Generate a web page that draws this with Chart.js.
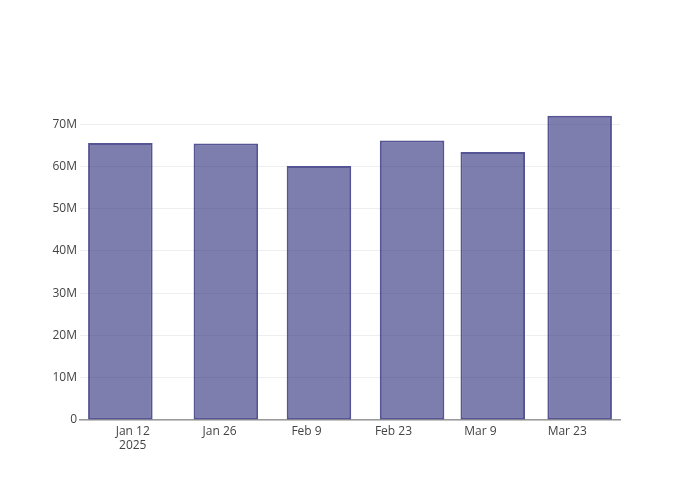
<!DOCTYPE html>
<html>
<head>
<meta charset="utf-8">
<script src="https://cdn.jsdelivr.net/npm/chart.js@4"></script>
<style>
  html, body { margin: 0; padding: 0; background: #fff; }
  #wrap { width: 700px; height: 500px; }
</style>
</head>
<body>
<div id="wrap"><canvas id="myChart" width="700" height="500"></canvas></div>
<script>
// day-of-year 2025 for each bar
const days = [10, 27, 42, 57, 70, 84];
const values = [65.5e6, 65.4e6, 60.1e6, 66.1e6, 63.4e6, 72.0e6];
const xTickDays = [12, 26, 40, 54, 68, 82];
const xTickLabels = [['Jan 12', '2025'], 'Jan 26', 'Feb 9', 'Feb 23', 'Mar 9', 'Mar 23'];
const yTicks = [0, 10e6, 20e6, 30e6, 40e6, 50e6, 60e6, 70e6];

const ctx = document.getElementById('myChart');

new Chart(ctx, {
  type: 'bar',
  data: {
    datasets: [{
      data: days.map((d, i) => ({ x: d, y: values[i] })),
      backgroundColor: 'rgba(40, 40, 120, 0.6)',
      borderColor: 'rgba(55, 55, 130, 0.85)',
      borderWidth: 2,
      borderSkipped: false,
      categoryPercentage: 1,
      barPercentage: 0.8
    }]
  },
  options: {
    responsive: false,
    animation: false,
    layout: { padding: { left: 0, right: 80, top: 100, bottom: 0 } },
    plugins: { legend: { display: false }, tooltip: { enabled: false } },
    scales: {
      x: {
        type: 'linear',
        offset: false,
        min: 3.5,
        max: 90.5,
        grid: { display: false, drawTicks: false, offset: false },
        border: { display: true, color: '#9a9a9a', width: 1.5 },
        afterBuildTicks: s => { s.ticks = xTickDays.map(v => ({ value: v })); },
        afterFit: s => { s.height = 80; },
        ticks: {
          autoSkip: false,
          maxRotation: 0,
          padding: 4,
          color: '#444',
          font: { family: 'Open Sans', size: 12 },
          callback: (v, i) => xTickLabels[i]
        }
      },
      y: {
        min: 0,
        max: 75.7e6,
        grid: { color: '#eeeeee', drawTicks: false },
        border: { display: false },
        afterBuildTicks: s => { s.ticks = yTicks.map(v => ({ value: v })); },
        afterFit: s => { s.width = 80; },
        ticks: {
          padding: 3,
          color: '#444',
          font: { family: 'Open Sans', size: 12 },
          callback: v => v === 0 ? '0' : (v / 1e6) + 'M'
        }
      }
    }
  }
});
</script>
</body>
</html>
